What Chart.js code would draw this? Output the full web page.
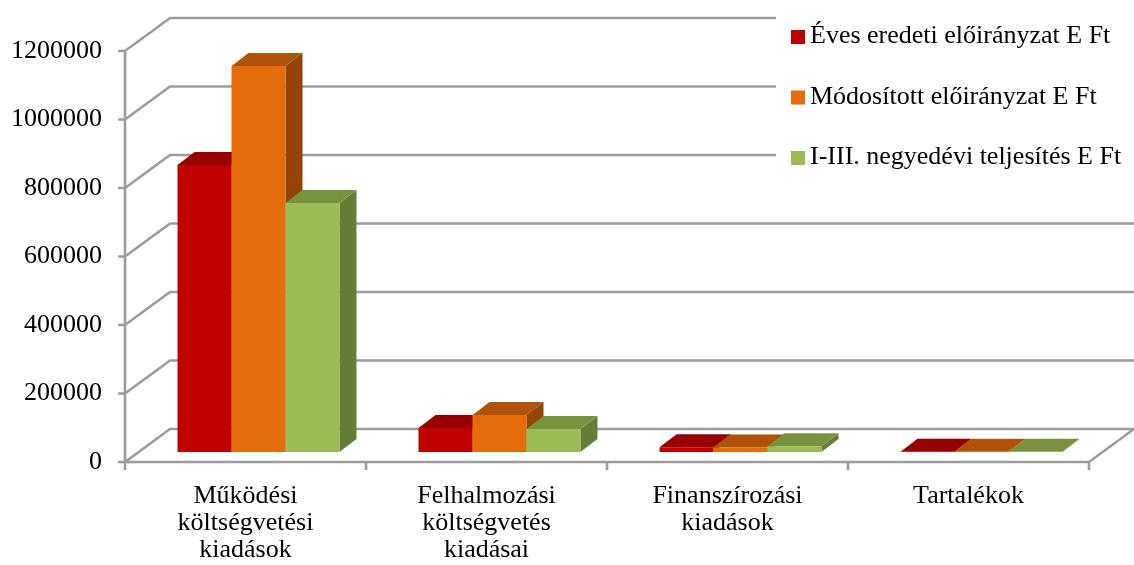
<!DOCTYPE html>
<html>
<head>
<meta charset="utf-8">
<title>Kiadások</title>
<script src="https://cdn.jsdelivr.net/npm/chart.js@4"></script>
<style>
  html, body { margin: 0; padding: 0; background: #fff; }
  canvas { display: block; }
</style>
</head>
<body>
<canvas id="chart" width="1134" height="565"></canvas>
<script>
/* ============================================================
   DATA (E Ft)
============================================================ */
const categories = [
    ["Működési", "költségvetési", "kiadások"],
    ["Felhalmozási", "költségvetés", "kiadásai"],
    ["Finanszírozási", "kiadások"],
    ["Tartalékok"]
];
const seriesNames = [
    "Éves eredeti előirányzat E Ft",
    "Módosított előirányzat E Ft",
    "I-III. negyedévi teljesítés E Ft"
];
const eredeti    = [838000, 70000, 14000, 500];
const modositott = [1127000, 108000, 13000, 500];
const teljesites = [727000, 67000, 17000, 500];
const yTicks = [0, 200000, 400000, 600000, 800000, 1000000, 1200000];

/* ============================================================
   STYLE
============================================================ */
const FONT = "'Liberation Serif', 'Times New Roman', serif";
const FRONT = ["#c00000", "#e46c0a", "#9bbb59"];
const TOP   = ["#960000", "#b0530a", "#77933f"];
const SIDE  = ["#7a0000", "#944405", "#667d36"];

const WALL = { dx: 45, dy: -33 };                // depth of the back wall
const BAR  = { x: 13, y: -10, dx: 17, dy: -13 }; // bar plane shift + bar depth
const GRID = "#9c9c9c";

function poly(ctx, pts, color) {
    ctx.fillStyle = color;
    ctx.beginPath();
    ctx.moveTo(pts[0][0], pts[0][1]);
    for (let i = 1; i < pts.length; i++) ctx.lineTo(pts[i][0], pts[i][1]);
    ctx.closePath();
    ctx.fill();
}

/* ============================================================
   3D box: walls, floor, bar faces, legend
============================================================ */
const box3d = {
    id: "box3d",

    beforeDatasetsDraw(chart) {
        const { ctx, chartArea: a, scales: { x, y } } = chart;

        // walls + floor
        ctx.save();
        ctx.strokeStyle = GRID;
        ctx.lineWidth = 2.6;
        ctx.beginPath();
        y.ticks.forEach(t => {
            const py = y.getPixelForValue(t.value);
            ctx.moveTo(a.left - 7, py);
            ctx.lineTo(a.left, py);
            ctx.lineTo(a.left + WALL.dx, py + WALL.dy);
            ctx.lineTo(a.right + WALL.dx, py + WALL.dy);
        });
        ctx.moveTo(a.left, a.top);
        ctx.lineTo(a.left, a.bottom);
        ctx.lineTo(a.right, a.bottom);
        ctx.lineTo(a.right + WALL.dx, a.bottom + WALL.dy);

        const half = (x.getPixelForTick(1) - x.getPixelForTick(0)) / 2;
        x.ticks.forEach((t, i) => {
            const px = x.getPixelForTick(i) - half;
            ctx.moveTo(px, a.bottom);
            ctx.lineTo(px, a.bottom + 8);
        });
        ctx.moveTo(a.right, a.bottom);
        ctx.lineTo(a.right, a.bottom + 8);
        ctx.stroke();
        ctx.restore();

        // bars, left to right so nearer faces cover the ones behind
        const metas = chart.data.datasets.map((d, i) => chart.getDatasetMeta(i));
        ctx.save();
        ctx.translate(BAR.x, BAR.y);
        categories.forEach((c, j) => {
            metas.forEach((meta, i) => {
                const bar = meta.data[j];
                const { x: bx, y: by, base, width } = bar.getProps(["x", "y", "base", "width"], true);
                const l = bx - width / 2, r = bx + width / 2;
                poly(ctx, [[r, by], [r + BAR.dx, by + BAR.dy], [r + BAR.dx, base + BAR.dy], [r, base]], SIDE[i]);
                poly(ctx, [[l, by], [l + BAR.dx, by + BAR.dy], [r + BAR.dx, by + BAR.dy], [r, by]], TOP[i]);
                bar.draw(ctx);
            });
        });
        ctx.restore();
        return false;
    },

    afterDraw(chart) {
        const ctx = chart.ctx;
        ctx.save();
        ctx.fillStyle = "#fff";
        ctx.fillRect(776, 0, chart.width - 776, 182);
        ctx.font = "26px " + FONT;
        ctx.textBaseline = "alphabetic";
        chart.data.datasets.forEach((ds, i) => {
            const cy = 37 + i * 60.5;
            ctx.fillStyle = ds.backgroundColor;
            ctx.fillRect(791, cy - 7, 14, 14);
            ctx.fillStyle = "#000";
            ctx.fillText(ds.label, 810, cy + 6);
        });
        ctx.restore();
    }
};

/* ============================================================
   CHART
============================================================ */
const values = [eredeti, modositott, teljesites];

new Chart(document.getElementById("chart"), {
    type: "bar",
    data: {
        labels: categories,
        datasets: values.map((v, i) => ({
            label: seriesNames[i],
            data: v,
            backgroundColor: FRONT[i],
            borderWidth: 0,
            categoryPercentage: 0.672,
            barPercentage: 1
        }))
    },
    options: {
        responsive: false,
        animation: false,
        devicePixelRatio: 1,
        layout: { padding: { top: 51, right: 45, left: 0, bottom: 0 } },
        plugins: {
            legend: { display: false },
            tooltip: { enabled: false }
        },
        scales: {
            x: {
                grid: { display: false, drawTicks: false },
                border: { display: false },
                ticks: {
                    color: "#000",
                    font: { family: FONT, size: 26, lineHeight: 1.04 },
                    padding: 21,
                    autoSkip: false,
                    maxRotation: 0
                },
                afterFit: s => { s.height = 103; }
            },
            y: {
                min: 0,
                max: yTicks[yTicks.length - 1],
                grid: { display: false, drawTicks: false },
                border: { display: false },
                ticks: {
                    color: "#000",
                    font: { family: FONT, size: 26 },
                    padding: 23,
                    callback: v => String(v)
                },
                afterBuildTicks: s => { s.ticks = yTicks.map(v => ({ value: v })); },
                afterFit: s => { s.width = 125; }
            }
        }
    },
    plugins: [box3d]
});
</script>
</body>
</html>
